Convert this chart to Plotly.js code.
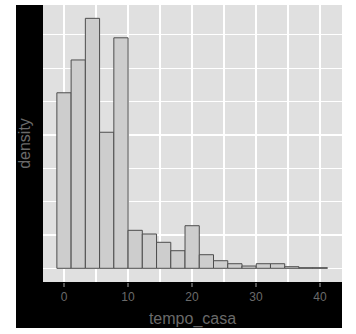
<!DOCTYPE html>
<html>
<head>
<meta charset="utf-8">
<script src="https://cdn.plot.ly/plotly-3.0.1.min.js"></script>
<style>
  html, body { margin: 0; padding: 0; background: #ffffff; width: 356px; height: 334px; overflow: hidden; }
  #chart { position: absolute; left: 16px; top: 5px; width: 326px; height: 323px; }
</style>
</head>
<body>
<div id="chart"></div>
<script>
// Bin centers of tempo_casa histogram
const binCenters = [0, 2.225, 4.45, 6.675, 8.9, 11.125, 13.35, 15.575, 17.8, 20.025,
                    22.25, 24.475, 26.7, 28.925, 31.15, 33.375, 35.6, 37.825, 40.05];
const binWidth = 2.225;
// Density per bin
const densityValues = [0.0658, 0.0781, 0.0937, 0.0510, 0.0864, 0.01424, 0.01286, 0.00975, 0.0066, 0.01597,
                       0.0051, 0.00285, 0.00172, 0.00086, 0.00172, 0.00172, 0.0006, 0.00022, 0.00022];
const xTickVals = [0, 10, 20, 30, 40];
const xTickText = ['0', '10', '20', '30', '40'];

const textGrey = '#6a6a6a';

const trace = {
  type: 'bar',
  x: binCenters,
  y: densityValues,
  width: binCenters.map(() => binWidth),
  marker: { color: '#cdcdcd', line: { color: '#4d4d4d', width: 1 } },
  hoverinfo: 'x+y'
};

const layout = {
  width: 326,
  height: 323,
  margin: { l: 27, r: 0, t: 0, b: 46, pad: 0 },
  paper_bgcolor: '#000000',
  plot_bgcolor: '#e0e0e0',
  showlegend: false,
  bargap: 0,
  font: { family: 'Liberation Sans, Arial, sans-serif', color: textGrey },
  xaxis: {
    range: [-3.28, 43.44],
    tickmode: 'array',
    tickvals: xTickVals,
    ticktext: xTickText,
    ticks: 'outside',
    ticklen: 4,
    tickwidth: 1.5,
    tickcolor: '#555555',
    tickfont: { size: 12, color: textGrey },
    showgrid: true,
    gridcolor: '#ffffff',
    gridwidth: 1.4,
    minor: { dtick: 5, tick0: 0, showgrid: true, gridcolor: '#ffffff', gridwidth: 1.1 },
    zeroline: false,
    showline: false,
    title: { text: 'tempo_casa', font: { size: 16, color: textGrey }, standoff: 10 },
    fixedrange: true
  },
  yaxis: {
    range: [-0.00513, 0.0987],
    dtick: 0.025,
    tick0: 0,
    showticklabels: false,
    ticks: '',
    showgrid: true,
    gridcolor: '#ffffff',
    gridwidth: 1.4,
    minor: { dtick: 0.0125, tick0: 0, showgrid: true, gridcolor: '#ffffff', gridwidth: 1.1 },
    zeroline: false,
    showline: false,
    title: { text: 'density', font: { size: 16, color: textGrey }, standoff: 10 },
    fixedrange: true
  }
};

Plotly.newPlot('chart', [trace], layout, { displayModeBar: false, staticPlot: true });
</script>
</body>
</html>
